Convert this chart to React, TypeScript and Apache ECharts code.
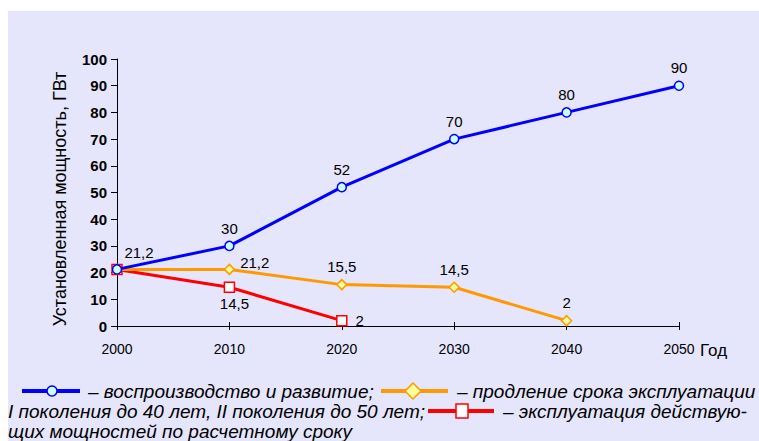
import React, { useEffect, useRef } from "react";
import * as echarts from "echarts";

const years = ["2000", "2010", "2020", "2030", "2040", "2050"];
const development = [21.2, 30, 52, 70, 80, 90];
const extension = [21.2, 21.2, 15.5, 14.5, 2, null];
const current = [21.2, 14.5, 2, null, null, null];
const yAxisTitle = "Установленная мощность, ГВт";
const xAxisUnit = "Год";
const legendTexts = [
  "– воспроизводство и развитие;",
  "– продление срока эксплуатации",
  "I поколения до 40 лет, II поколения до 50 лет;",
  "– эксплуатация действую-",
  "щих мощностей по расчетному сроку",
];

const FONT = "'Liberation Sans', Arial, sans-serif";
const BLUE = "#0000FF";
const ORANGE = "#FF9900";
const RED = "#FF0000";

const fmt = (p: any) => String(p.value).replace(".", ",");

export default function App() {
  const ref = useRef<HTMLDivElement>(null);
  useEffect(() => {
    if (!ref.current) return;
    const chart = echarts.init(ref.current, undefined, { renderer: "svg" });
    const lbl = { fontFamily: FONT, fontSize: 15, color: "#000", formatter: fmt };

    const devData = development.map((v, i) => ({
      value: v,
      label:
        i === 0
          ? { show: true, position: "top", offset: [22, 1], ...lbl }
          : { show: true, position: "top", ...lbl },
    }));
    const extData = extension.map((v, i) => ({
      value: v,
      label:
        i === 0
          ? { show: false }
          : i === 1
          ? { show: true, position: "right", offset: [0, -7], ...lbl }
          : { show: v != null, position: "top", ...lbl },
    }));
    const curData = current.map((v, i) => ({
      value: v,
      label:
        i === 0
          ? { show: false }
          : i === 1
          ? { show: true, position: "bottom", offset: [5, -2], ...lbl }
          : { show: v != null, position: "right", offset: [3, 0], ...lbl },
    }));

    const legendY1 = 391;
    const legendY2 = 411;
    const legendY3 = 431;
    const legendFont = { fontFamily: FONT, fontSize: 19, fontStyle: "italic", fill: "#000" };

    chart.setOption({
      animation: false,
      backgroundColor: "#ffffff",
      grid: { left: 117, right: 80, top: 59, bottom: 115, containLabel: false },
      xAxis: [
        {
          type: "category",
          data: years,
          boundaryGap: false,
          axisLine: { lineStyle: { color: "#000", width: 1 } },
          axisTick: { show: true, length: 4, lineStyle: { color: "#000" } },
          axisLabel: { fontFamily: FONT, fontSize: 14, color: "#000", margin: 16 },
          splitLine: { show: false },
        },
        {
          type: "category",
          data: years,
          boundaryGap: false,
          position: "bottom",
          offset: 0,
          axisLine: { show: false },
          axisTick: { show: true, inside: true, length: 4, lineStyle: { color: "#000" } },
          axisLabel: { show: false },
          splitLine: { show: false },
        },
      ],
      yAxis: {
        type: "value",
        min: 0,
        max: 100,
        interval: 10,
        axisLine: { show: true, lineStyle: { color: "#000", width: 1 } },
        axisTick: { show: true, length: 6, lineStyle: { color: "#000" } },
        axisLabel: { fontFamily: FONT, fontSize: 15, fontWeight: "bold", color: "#000", margin: 10 },
        splitLine: { show: false },
      },
      series: [
        {
          type: "line",
          data: curData,
          lineStyle: { color: RED, width: 3 },
          itemStyle: { color: "#fff", borderColor: RED, borderWidth: 1.5 },
          symbol: "rect",
          symbolSize: 10,
          showAllSymbol: true,
          z: 2,
        },
        {
          type: "line",
          data: extData,
          lineStyle: { color: ORANGE, width: 3 },
          itemStyle: { color: "#FFFF99", borderColor: ORANGE, borderWidth: 1.5 },
          symbol: "diamond",
          symbolSize: 10,
          showAllSymbol: true,
          z: 3,
        },
        {
          type: "line",
          data: devData,
          lineStyle: { color: BLUE, width: 3 },
          itemStyle: { color: "#CCFFFF", borderColor: BLUE, borderWidth: 1.5 },
          symbol: "circle",
          symbolSize: 9,
          showAllSymbol: true,
          z: 4,
        },
      ],
      graphic: [
        {
          type: "rect",
          z: -100,
          silent: true,
          shape: { x: 8, y: 11, width: 751, height: 430 },
          style: { fill: "#E5E5FB" },
        },
        {
          type: "text",
          x: 60,
          y: 199,
          rotation: Math.PI / 2,
          style: {
            text: yAxisTitle,
            fontFamily: FONT,
            fontSize: 18,
            fill: "#000",
            align: "center",
            verticalAlign: "middle",
          },
        },
        {
          type: "text",
          x: 700,
          y: 350,
          style: { text: xAxisUnit, fontFamily: FONT, fontSize: 17, fill: "#000", verticalAlign: "middle" },
        },
        // legend line 1: blue
        { type: "line", shape: { x1: 22, y1: legendY1, x2: 80, y2: legendY1 }, style: { stroke: BLUE, lineWidth: 4 } },
        { type: "circle", shape: { cx: 52, cy: legendY1, r: 5 }, style: { fill: "#CCFFFF", stroke: BLUE, lineWidth: 1.5 } },
        { type: "text", x: 88, y: legendY1, style: { text: legendTexts[0], ...legendFont, verticalAlign: "middle" } },
        // orange
        { type: "line", shape: { x1: 381, y1: legendY1, x2: 448, y2: legendY1 }, style: { stroke: ORANGE, lineWidth: 4 } },
        {
          type: "polygon",
          shape: { points: [[413, legendY1 - 8], [421, legendY1], [413, legendY1 + 8], [405, legendY1]] },
          style: { fill: "#FFFF99", stroke: ORANGE, lineWidth: 1.5 },
        },
        { type: "text", x: 457, y: legendY1, style: { text: legendTexts[1], ...legendFont, verticalAlign: "middle" } },
        // line 2
        { type: "text", x: 8, y: legendY2, style: { text: legendTexts[2], ...legendFont, verticalAlign: "middle" } },
        { type: "line", shape: { x1: 428, y1: legendY2, x2: 494, y2: legendY2 }, style: { stroke: RED, lineWidth: 4 } },
        {
          type: "rect",
          shape: { x: 456, y: legendY2 - 7, width: 12, height: 14 },
          style: { fill: "#fff", stroke: RED, lineWidth: 1.5 },
        },
        { type: "text", x: 503, y: legendY2, style: { text: legendTexts[3], ...legendFont, verticalAlign: "middle" } },
        // line 3
        { type: "text", x: 8, y: legendY3, style: { text: legendTexts[4], ...legendFont, verticalAlign: "middle" } },
      ],
    });
    return () => chart.dispose();
  }, []);

  return (
    <div
      ref={ref}
      style={{ position: "fixed", left: 0, top: 0, width: 759, height: 441 }}
    />
  );
}
